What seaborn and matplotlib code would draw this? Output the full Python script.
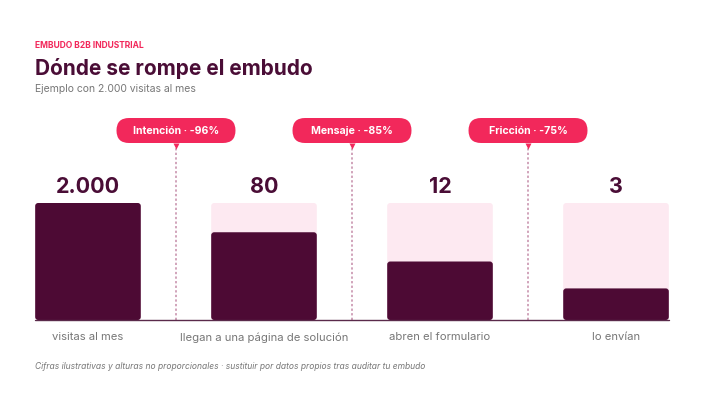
import matplotlib
matplotlib.use("Agg")
import matplotlib.pyplot as plt
from matplotlib.patches import FancyBboxPatch
import seaborn as sns

# funnel data
categories = ["visitas al mes", "llegan a una página de solución", "abren el formulario", "lo envían"]
values = [2000, 80, 12, 3]
# display heights (not proportional, as the footnote says)
bar_heights = [100, 75, 50, 27]
track_heights = [100, 100, 100, 100]
drop_names = ["Intención", "Mensaje", "Fricción"]

DARK = "#4D0A34"
TITLE = "#4A0D36"
PINK = "#F2285B"
LIGHT = "#FDE9F1"
GREY = "#777777"
BG = "#FFFFFF"

W, H = 704, 402

sns.set_theme(style="white")
plt.rcParams["font.family"] = ["Inter", "DejaVu Sans"]

fig = plt.figure(figsize=(W / 100, H / 100), dpi=100, facecolor=BG)

# axes in pixel geometry: baseline at y=321, bars span x 35..669
ax_left, ax_right, ax_bottom, ax_top = 35, 669, 321, 110
ax = fig.add_axes([ax_left / W, 1 - ax_bottom / H, (ax_right - ax_left) / W, (ax_bottom - ax_top) / H])
ax.set_facecolor(BG)

px_per_bar = 117 / 100  # 100 units == 117 px
ytop = (ax_bottom - ax_top) / px_per_bar
xmin, xmax = -0.301, 3.301

sns.barplot(x=categories, y=track_heights, color=LIGHT, width=0.6, saturation=1, ax=ax)
sns.barplot(x=categories, y=bar_heights, color=DARK, width=0.6, saturation=1, ax=ax)
ax.set_xlim(xmin, xmax)
ax.set_ylim(0, ytop)

ux = (xmax - xmin) / (ax_right - ax_left)  # x units per px
uy = ytop / (ax_bottom - ax_top)           # y units per px
aspect = uy / ux

# round the bar corners
for p in list(ax.patches):
    x, y, w, h = p.get_x(), p.get_y(), p.get_width(), p.get_height()
    fc = p.get_facecolor()
    p.remove()
    ax.add_patch(FancyBboxPatch((x, y), w, h, boxstyle=f"round,pad=0,rounding_size={3 * ux}",
                                mutation_aspect=aspect, fc=fc, ec="none", zorder=2))

ax.axhline(0, color="#5A2A4A", lw=1, zorder=3, clip_on=False)

# value labels
for i, v in enumerate(values):
    ax.text(i, (321 - 193) * uy, f"{v:,}".replace(",", "."),
            ha="center", va="baseline", fontsize=15.5, fontweight="bold", color=TITLE)

# drop-off pills and dashed dividers
for i in range(len(values) - 1):
    cx = i + 0.5
    pct = round((1 - values[i + 1] / values[i]) * 100)
    ax.vlines(cx, 0, (321 - 149) * uy, colors="#C58BA8", lw=1.1, linestyles=(0, (1.5, 1.5)), zorder=1)
    pw, ph = 119 * ux, 25 * uy
    cy = (321 - 131.5) * uy
    ax.add_patch(FancyBboxPatch((cx - pw / 2, cy - ph / 2), pw, ph,
                                boxstyle=f"round,pad=0,rounding_size={12.5 * ux}",
                                mutation_aspect=aspect, fc=PINK, ec="none", clip_on=False, zorder=4))
    ax.plot(cx, (321 - 146.5) * uy, marker="v", ms=5, color=PINK, mec="none", clip_on=False, zorder=4)
    ax.text(cx, cy, f"{drop_names[i]} · -{pct}%", ha="center", va="center",
            fontsize=7.6, fontweight="bold", color="white", zorder=5)

ax.tick_params(axis="x", length=0, pad=8, labelsize=8.1, labelcolor=GREY)
ax.set_yticks([])
ax.set_xlabel("")
ax.set_ylabel("")
for s in ax.spines.values():
    s.set_visible(False)

# header and footer
fig.text(35 / W, 1 - 47.5 / H, "EMBUDO B2B INDUSTRIAL", fontsize=6.1, fontweight="bold", color=PINK, va="baseline")
fig.text(35 / W, 1 - 75 / H, "Dónde se rompe el embudo", fontsize=15, fontweight="bold", color=TITLE, va="baseline")
fig.text(35 / W, 1 - 92.5 / H, "Ejemplo con 2.000 visitas al mes", fontsize=7.5, color=GREY, va="baseline")
fig.text(35 / W, 1 - 369 / H,
         "Cifras ilustrativas y alturas no proporcionales · sustituir por datos propios tras auditar tu embudo",
         fontsize=6.1, style="italic", color=GREY, va="baseline")

fig.savefig("out.png", dpi=100, facecolor=BG)
